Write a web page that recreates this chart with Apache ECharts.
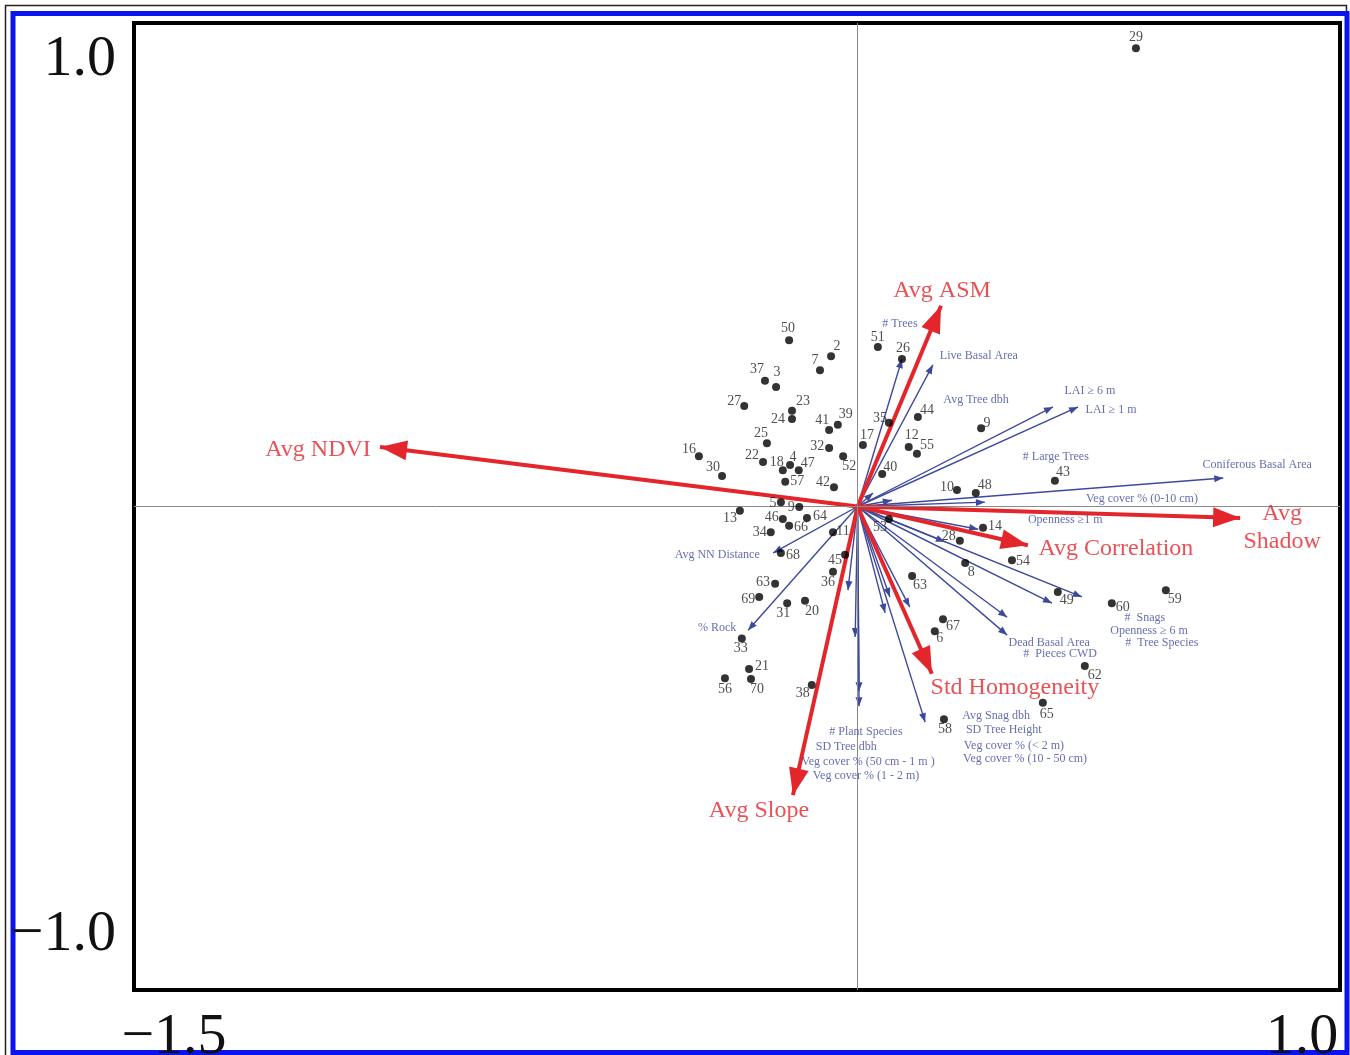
<!DOCTYPE html>
<html>
<head>
<meta charset="utf-8">
<script src="https://cdn.jsdelivr.net/npm/echarts@6/dist/echarts.min.js"></script>
<style>
html, body { margin: 0; padding: 0; background: #fff; }
#chart { width: 1350px; height: 1055px; }
</style>
</head>
<body>
<div id="chart"></div>
<script>
// site scores on axis 1 / axis 2
let siteIds = ['29', '50', '2', '7', '37', '3', '27', '23', '24', '41',
    '39', '25', '32', '17', '16', '22', '18', '4', '47', '52',
    '30', '57', '42', '5', '9', '13', '46', '64', '66', '34',
    '11', '68', '45', '36', '63', '69', '31', '20', '33', '21',
    '56', '70', '38', '51', '26', '35', '44', '9', '12', '55',
    '40', '10', '48', '43', '14', '28', '54', '53', '8', '63',
    '49', '60', '59', '67', '6', '62', '65', '58'];
let siteX = [0.577, -0.142, -0.055, -0.078, -0.192, -0.169, -0.235, -0.136, -0.136, -0.059,
    -0.041, -0.188, -0.059, 0.011, -0.329, -0.196, -0.155, -0.140, -0.122, -0.030,
    -0.281, -0.150, -0.049, -0.159, -0.121, -0.244, -0.155, -0.105, -0.142, -0.180,
    -0.051, -0.159, -0.026, -0.051, -0.171, -0.204, -0.146, -0.109, -0.240, -0.225,
    -0.275, -0.221, -0.095, 0.042, 0.092, 0.065, 0.125, 0.256, 0.106, 0.123,
    0.051, 0.206, 0.245, 0.409, 0.260, 0.212, 0.320, 0.065, 0.223, 0.113,
    0.415, 0.527, 0.639, 0.177, 0.160, 0.471, 0.384, 0.179];
let siteY = [0.948, 0.344, 0.311, 0.282, 0.260, 0.247, 0.208, 0.198, 0.181, 0.158,
    0.169, 0.131, 0.121, 0.127, 0.104, 0.092, 0.075, 0.086, 0.075, 0.104,
    0.063, 0.051, 0.040, 0.009, -0.001, -0.009, -0.026, -0.024, -0.040, -0.053,
    -0.053, -0.096, -0.100, -0.135, -0.160, -0.187, -0.200, -0.195, -0.273, -0.336,
    -0.355, -0.357, -0.369, 0.330, 0.305, 0.173, 0.185, 0.162, 0.123, 0.109,
    0.067, 0.034, 0.028, 0.053, -0.044, -0.071, -0.111, -0.026, -0.117, -0.144,
    -0.177, -0.200, -0.173, -0.233, -0.258, -0.330, -0.406, -0.440];

// image texture variables (red arrows)
let texNames = ['Avg ASM', 'Avg NDVI', 'Avg\nShadow', 'Avg Correlation', 'Std Homogeneity', 'Avg Slope'];
let texX = [0.173, -0.990, 0.793, 0.353, 0.154, -0.134];
let texY = [0.415, 0.123, -0.024, -0.080, -0.346, -0.597];

// field variables (blue arrows)
let vegNames = ['# Trees', 'Live Basal Area', 'Avg Tree dbh', 'LAI \u2265 6 m', 'LAI \u2265 1 m',
    '# Large Trees', 'Coniferous Basal Area', 'Veg cover % (0-10 cm)', 'Openness \u22651 m', '#  Snags',
    'Openness \u2265 6 m', '#  Tree Species', 'Dead Basal Area', '#  Pieces CWD', 'Avg Snag dbh',
    'SD Tree Height', 'Veg cover % (< 2 m)', 'Veg cover % (10 - 50 cm)', '# Plant Species', 'SD Tree dbh',
    'Veg cover % (50 cm - 1 m )', 'Veg cover % (1 - 2 m)', 'Avg NN Distance', '% Rock'];
let vegX = [0.092, 0.156, 0.032, 0.405, 0.457, 0.071, 0.758, 0.264, 0.250, 0.465,
    0.403, 0.181, 0.310, 0.310, 0.140, 0.108, 0.067, 0.057, -0.020, -0.005,
    0.003, 0.003, -0.175, -0.227];
let vegY = [0.305, 0.293, 0.028, 0.206, 0.206, 0.013, 0.059, 0.009, -0.047, -0.187,
    -0.200, -0.073, -0.229, -0.266, -0.446, -0.208, -0.187, -0.220, -0.173, -0.270,
    -0.382, -0.413, -0.096, -0.256];

let xTicks = [-1.5, 1.0];
let yTicks = [-1.0, 1.0];

// label nudges in pixels (style only)
let siteLabelOff = [[0, -11], [-1, -12], [6, -10], [-5, -10], [-8, -11], [1, -15], [-10, -5], [11, -9], [-14, 0], [-7, -10],
    [8, -10], [-6, -10], [-12, -2], [4, -10], [-10, -7], [-11, -7], [-6, -8], [3, -8], [9, -7], [6, 10],
    [-9, -9], [12, -1], [-11, -5], [-8, 1], [-8, 0], [-10, 7], [-11, -2], [13, -2], [12, 1], [-11, 0],
    [10, -1], [12, 2], [-10, 5], [-5, 11], [-12, -2], [-11, 2], [-4, 10], [7, 11], [-1, 10], [13, -3],
    [0, 11], [6, 10], [-9, 8], [0, -10], [1, -11], [-9, -5], [9, -7], [6, -5], [3, -12], [10, -8],
    [8, -7], [-10, -3], [9, -8], [8, -9], [12, -1], [-11, -5], [11, 1], [-9, 8], [6, 9], [8, 9],
    [9, 8], [11, 4], [9, 9], [10, 7], [5, 7], [10, 9], [4, 12], [1, 10]];
let vegLabelOff = [[-2, -35], [46, -9], [103, -93], [37, -16], [33, 3], [164, -43], [34, -13], [157, -3], [87, -9], [63, 21],
    [97, 28], [217, 101], [42, 26], [53, 19], [71, -6], [94, 123], [124, 149], [140, 146], [18, 142], [-9, 110],
    [9, 71], [7, 70], [-56, 2], [-31, -2]];
let texLabelOff = [[1, -15], [-62, 3], [42, 10], [88, 4], [83, 14], [-34, 16]];

let serif = '"Liberation Serif", "DejaVu Serif", serif';
let red = '#e3262c';
let blue = '#3d4a9c';

// arrow heads whose tip sits at the centre of the symbol box
let bigHead = 'path://M0,0 L-10,27 L10,27 Z M-27,-27 L-27,-27 M27,27 L27,27';
let smallHead = 'path://M0,0 L-3.5,9 L3.5,9 Z M-9,-9 L-9,-9 M9,9 L9,9';

let fmtTick = v => (v < 0 ? '\u2212' : '') + Math.abs(v).toFixed(1);

var chart = echarts.init(document.getElementById('chart'));

let option = {
    backgroundColor: '#fff',
    animation: false,
    graphic: [{
        type: 'rect',
        shape: { x: 5.5, y: 5.5, width: 1341, height: 1060 },
        style: { fill: 'none', stroke: '#222', lineWidth: 1.5 }
    }, {
        type: 'rect',
        shape: { x: 13, y: 13.5, width: 1334, height: 1039 },
        style: { fill: 'none', stroke: '#0a14f0', lineWidth: 5 }
    }],
    grid: {
        left: 134, right: 10, top: 23, bottom: 65,
        outerBoundsMode: 'none',
        containLabel: false,
        show: true, borderColor: '#000', borderWidth: 4, backgroundColor: '#fff'
    },
    xAxis: {
        type: 'value',
        min: xTicks[0], max: xTicks[1],
        splitLine: { show: false },
        axisTick: { show: false },
        axisLine: { show: false },
        axisLabel: {
            customValues: xTicks,
            margin: 19,
            formatter: v => (v < 0 ? '{lo|' : '{hi|') + fmtTick(v) + '}',
            rich: {
                lo: { fontSize: 58, fontFamily: serif, color: '#111', padding: [0, 0, 0, 80] },
                hi: { fontSize: 58, fontFamily: serif, color: '#111', padding: [0, 76, 0, 0] }
            }
        }
    },
    yAxis: {
        type: 'value',
        min: yTicks[0], max: yTicks[1],
        splitLine: { show: false },
        axisTick: { show: false },
        axisLine: { show: false },
        axisLabel: {
            customValues: yTicks,
            margin: 18,
            formatter: v => (v < 0 ? '{lo|' : '{hi|') + fmtTick(v) + '}',
            rich: {
                lo: { fontSize: 58, fontFamily: serif, color: '#111', padding: [0, 0, 110, 0] },
                hi: { fontSize: 58, fontFamily: serif, color: '#111', padding: [74, 0, 0, 0] }
            }
        }
    },
    series: [{
        // field variable arrows
        type: 'lines',
        coordinateSystem: 'cartesian2d',
        z: 2,
        symbol: ['none', smallHead],
        symbolSize: 18,
        lineStyle: { color: blue, width: 1.4, opacity: 1 },
        data: vegX.map((x, i) => ({ coords: [[0, 0], [x, vegY[i]]] }))
    }, {
        // texture arrows
        type: 'lines',
        coordinateSystem: 'cartesian2d',
        z: 3,
        symbol: ['none', bigHead],
        symbolSize: 54,
        lineStyle: { color: red, width: 4, opacity: 1 },
        data: texX.map((x, i) => ({ coords: [[0, 0], [x, texY[i]]] }))
    }, {
        // sites
        type: 'scatter',
        z: 5,
        symbolSize: 8,
        itemStyle: { color: '#000' },
        markLine: {
            silent: true,
            symbol: 'none',
            label: { show: false },
            lineStyle: { color: '#8a8a8a', width: 1, type: 'solid' },
            data: [{ xAxis: 0 }, { yAxis: 0 }]
        },
        label: {
            show: true,
            position: 'inside',
            formatter: p => p.name,
            fontFamily: serif,
            fontSize: 14,
            color: '#222'
        },
        data: siteX.map((x, i) => ({
            name: siteIds[i],
            value: [x, siteY[i]],
            label: { offset: siteLabelOff[i] }
        }))
    }, {
        // field variable names
        type: 'scatter',
        z: 6,
        symbolSize: 0,
        silent: true,
        label: {
            show: true,
            position: 'inside',
            formatter: p => p.name,
            fontFamily: serif,
            fontSize: 12,
            color: blue
        },
        data: vegX.map((x, i) => ({
            name: vegNames[i],
            value: [x, vegY[i]],
            label: { offset: vegLabelOff[i] }
        }))
    }, {
        // texture names
        type: 'scatter',
        z: 6,
        symbolSize: 0,
        silent: true,
        label: {
            show: true,
            position: 'inside',
            formatter: p => p.name,
            fontFamily: serif,
            fontSize: 24,
            lineHeight: 28,
            color: red
        },
        data: texX.map((x, i) => ({
            name: texNames[i],
            value: [x, texY[i]],
            label: { offset: texLabelOff[i] }
        }))
    }]
};
chart.setOption(option);
</script>
</body>
</html>
